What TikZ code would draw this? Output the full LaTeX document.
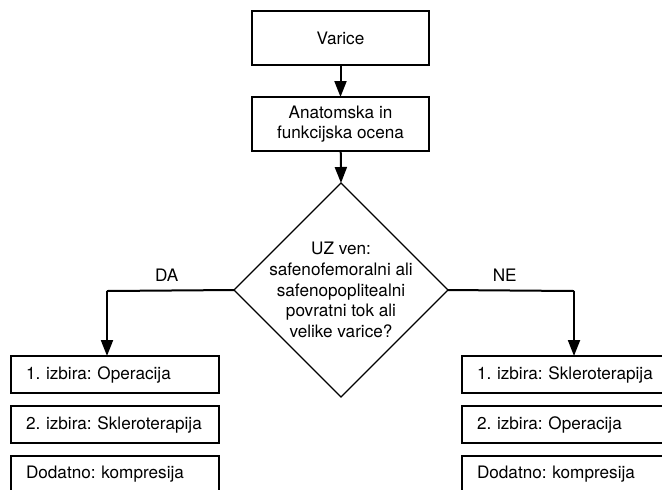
\documentclass[tikz,border=0pt]{standalone}
\usepackage{fontspec}
\setmainfont{TeX Gyre Heros}
\frenchspacing
\usepackage{tikz}
\usetikzlibrary{shapes.geometric}
\usetikzlibrary{arrows.meta}
\tikzset{
    box/.style={draw=black, line width=0.9pt, minimum width=106.2pt, minimum height=32.4pt,
                align=center, inner sep=0pt, outer sep=0pt},
    optbox/.style={draw=black, line width=0.9pt, text width=106.8pt, inner xsep=9pt, inner ysep=0pt,
                   minimum height=22.2pt, align=left, outer sep=0pt},
    decision/.style={diamond, draw=black, line width=0.7pt, minimum width=128.4pt,
                     minimum height=128.4pt, inner sep=0pt, outer sep=0pt},
    qtext/.style={align=center, inner sep=0pt},
    flow/.style={draw=black, line width=1.2pt, -{Triangle[length=9.6pt,width=7.2pt]}},
    branch/.style={draw=black, line width=1.2pt},
    lbl/.style={inner sep=0pt, above=5pt}
}

\begin{document}
\begin{tikzpicture}[x=0.6pt, y=-0.6pt, every node/.style={font=\fontsize{10.3}{12.4}\selectfont}]
  % Frame (pixel grid of the reference)
  \useasboundingbox (0,0) rectangle (662,489);
  \clip (0,0) rectangle (662,489);

  % Top of the chart
  \node[box] (varice) at (340.5,38) {\raisebox{-2pt}{Varice}};
  \node[box] (ocena)  at (340.5,124) {Anatomska in\\funkcijska ocena};

  % Decision
  \node[decision] (q) at (341,290) {};
  \node[qtext] at (q) {UZ ven:\\safenofemoralni ali\\safenopoplitealni\\povratni tok ali\\velike varice?};

  % Left column (DA)
  \foreach \t [count=\i] in {1. izbira: Operacija, 2. izbira: Skleroterapija, Dodatno: kompresija}{
    \node[optbox] (l\i) at (115,{374.5+(\i-1)*50}) {\t};
  }

  % Right column (NE)
  \foreach \t [count=\i] in {1. izbira: Skleroterapija, 2. izbira: Operacija, Dodatno: kompresija}{
    \node[optbox] (r\i) at (566,{374.5+(\i-1)*50}) {\t};
  }

  % Bends of the branches
  \coordinate (dL) at (107,291);
  \coordinate (dR) at (574,291);

  % Connectors
  \draw[flow] (varice) -- (ocena);
  \draw[flow] (ocena) -- (q.north);
  \draw[branch] (q.west) -- node[lbl, pos=0.53] {DA} (dL);
  \draw[flow] (dL) -- (dL |- l1.north);
  \draw[branch] (q.east) -- node[lbl, pos=0.45] {NE} (dR);
  \draw[flow] (dR) -- (dR |- r1.north);

\end{tikzpicture}
\end{document}
